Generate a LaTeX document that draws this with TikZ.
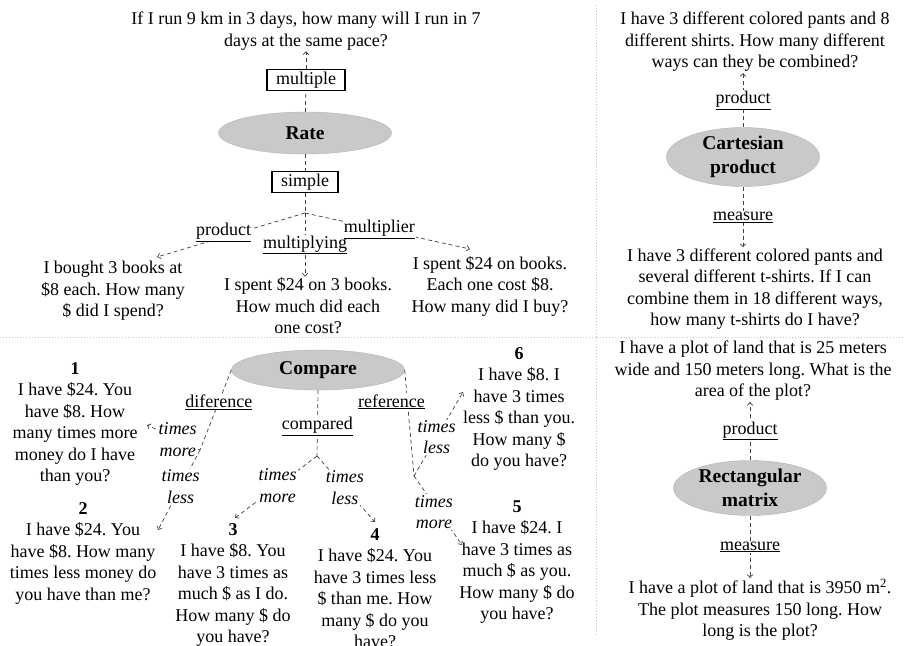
\documentclass[tikz,border=0pt]{standalone}
\usepackage{fontspec}
\setmainfont{Liberation Serif}
\usepackage{tikz}
\usetikzlibrary{shapes.geometric,arrows.meta}
\pgfdeclarelayer{background}
\pgfsetlayers{background,main}
\frenchspacing

\newcommand{\qfont}{\fontsize{18}{21.5}\selectfont}
\newcommand{\tfont}{\fontsize{19.5}{24}\selectfont\bfseries}

\tikzset{
  quest/.style={align=center, font=\qfont, inner sep=1pt},
  topic/.style={ellipse, fill=gray!42, draw=gray!60, font=\tfont, align=center, inner sep=0pt},
  kind/.style={draw, line width=1.1pt, font=\qfont, inner xsep=9pt, inner ysep=2pt},
  link/.style={draw=black!75, dash pattern=on 4pt off 3pt, line width=0.7pt},
  arr/.style={link, -{Straight Barb[length=3pt,width=5.5pt]}},
  role/.style={fill=white, font=\qfont, inner sep=1pt},
  how/.style={fill=white, font=\qfont\itshape, align=center, inner sep=1pt},
  sep/.style={draw=gray!45, dotted, line width=0.9pt}
}

\begin{document}
\begin{tikzpicture}[x=1pt,y=-1pt]
\useasboundingbox (0,0) rectangle (904,645);

\begin{pgfonlayer}{background}
\draw[sep] (0,337) -- (904,337);
\draw[sep] (596,5) -- (596,636);
\end{pgfonlayer}

\node[quest] (runq) at (306,31) {If I run 9 km in 3 days, how many will I run in 7\\days at the same pace?};
\node[kind] (mult) at (306,80) {multiple};
\node[topic, minimum width=173pt, minimum height=42pt] (rate) at (305,133) {Rate};
\node[kind] (simp) at (305,182) {simple};
\coordinate (fork) at (305,213);
\node[quest] (buyq) at (113,291) {I bought 3 books at\\\$8 each. How many\\\$ did I spend?};
\node[quest] (eachq) at (308,306) {I spent \$24 on 3 books.\\How much did each\\one cost?};
\node[quest] (howq) at (490,286) {I spent \$24 on books.\\Each one cost \$8.\\How many did I buy?};
\coordinate (buyend) at (157,257);
\coordinate (howend) at (470,249);

\draw[arr] (mult) -- (runq);
\draw[link] (rate) -- (mult);
\draw[link] (rate) -- (simp);
\draw[link] (simp) -- (fork);
\draw[arr] (fork) -- node[role, pos=0.55, yshift=5pt] {\underline{product}} (buyend);
\draw[arr] (fork) -- node[role] {\underline{multiplying}} (fork |- eachq.north);
\draw[arr] (fork) -- node[role, pos=0.45] {\underline{multiplier}} (howend);

\node[topic, minimum width=173pt, minimum height=40pt] (comp) at (318,370) {Compare};
\node[quest] (q1) at (75,424) {\textbf{1}\\I have \$24. You\\have \$8. How\\many times more\\money do I have\\than you?};
\node[quest] (q2) at (83,553) {\textbf{2}\\I have \$24. You\\have \$8. How many\\times less money do\\you have than me?};
\node[quest] (q3) at (233,585) {\textbf{3}\\I have \$8. You\\have 3 times as\\much \$ as I do.\\How many \$ do\\you have?};
\node[quest] (q4) at (375,588) {\textbf{4}\\I have \$24. You\\have 3 times less\\\$ than me. How\\many \$ do you\\have?};
\node[quest] (q5) at (517,562) {\textbf{5}\\I have \$24. I\\have 3 times as\\much \$ as you.\\How many \$ do\\you have?};
\node[quest] (q6) at (519,409) {\textbf{6}\\I have \$8. I\\have 3 times\\less \$ than you.\\How many \$\\do you have?};
\coordinate (djoin) at (200,450);
\coordinate (cjoin) at (317,456);
\coordinate (rjoin) at (414,476);
\coordinate (q1end) at (147,425);
\coordinate (q2end) at (158,530);
\coordinate (q3end) at (235,518);
\coordinate (q4end) at (375,522);
\coordinate (q5end) at (462,545);
\coordinate (q6end) at (463,392);

\draw[link] (comp.west) -- node[role, pos=0.4] {\underline{diference}} (djoin);
\draw[arr] (djoin) -- node[how, pos=0.42] {times\\more} (q1end);
\draw[arr] (djoin) -- node[how, pos=0.46] {times\\less} (q2end);
\draw[link] (comp.south) -- node[role, pos=0.55] {\underline{compared}} (cjoin);
\draw[arr] (cjoin) -- node[how, pos=0.48] {times\\more} (q3end);
\draw[arr] (cjoin) -- node[how, pos=0.48] {times\\less} (q4end);
\draw[link] (comp.east) -- node[role, pos=0.3, xshift=-16pt] {\underline{reference}} (rjoin);
\draw[arr] (rjoin) -- node[how, pos=0.46] {times\\less} (q6end);
\draw[arr] (rjoin) -- node[how, pos=0.52, xshift=-5pt] {times\\more} (q5end);

\node[quest] (pantq) at (755,42) {I have 3 different colored pants and 8\\different shirts. How many different\\ways can they be combined?};
\node[topic, minimum width=153pt, minimum height=55pt] (cart) at (743,157) {Cartesian\\product};
\node[quest] (shirtq) at (755,289) {I have 3 different colored pants and\\several different t-shirts. If I can\\combine them in 18 different ways,\\how many t-shirts do I have?};
\draw[arr] (cart.north) -- node[role] {\underline{product}} (cart.north |- pantq.south);
\draw[arr] (cart.south) -- node[role] {\underline{measure}} (cart.south |- shirtq.north);

\node[quest] (landq) at (753,371) {I have a plot of land that is 25 meters\\wide and 150 meters long. What is the\\area of the plot?};
\node[topic, minimum width=153pt, minimum height=55pt] (rect) at (750,488) {Rectangular\\matrix};
\node[quest] (longq) at (760,610) {I have a plot of land that is 3950 m\textsuperscript{2}.\\The plot measures 150 long. How\\long is the plot?};
\draw[arr] (rect.north) -- node[role] {\underline{product}} (rect.north |- landq.south);
\draw[arr] (rect.south) -- node[role] {\underline{measure}} (rect.south |- longq.north);

\end{tikzpicture}
\end{document}
